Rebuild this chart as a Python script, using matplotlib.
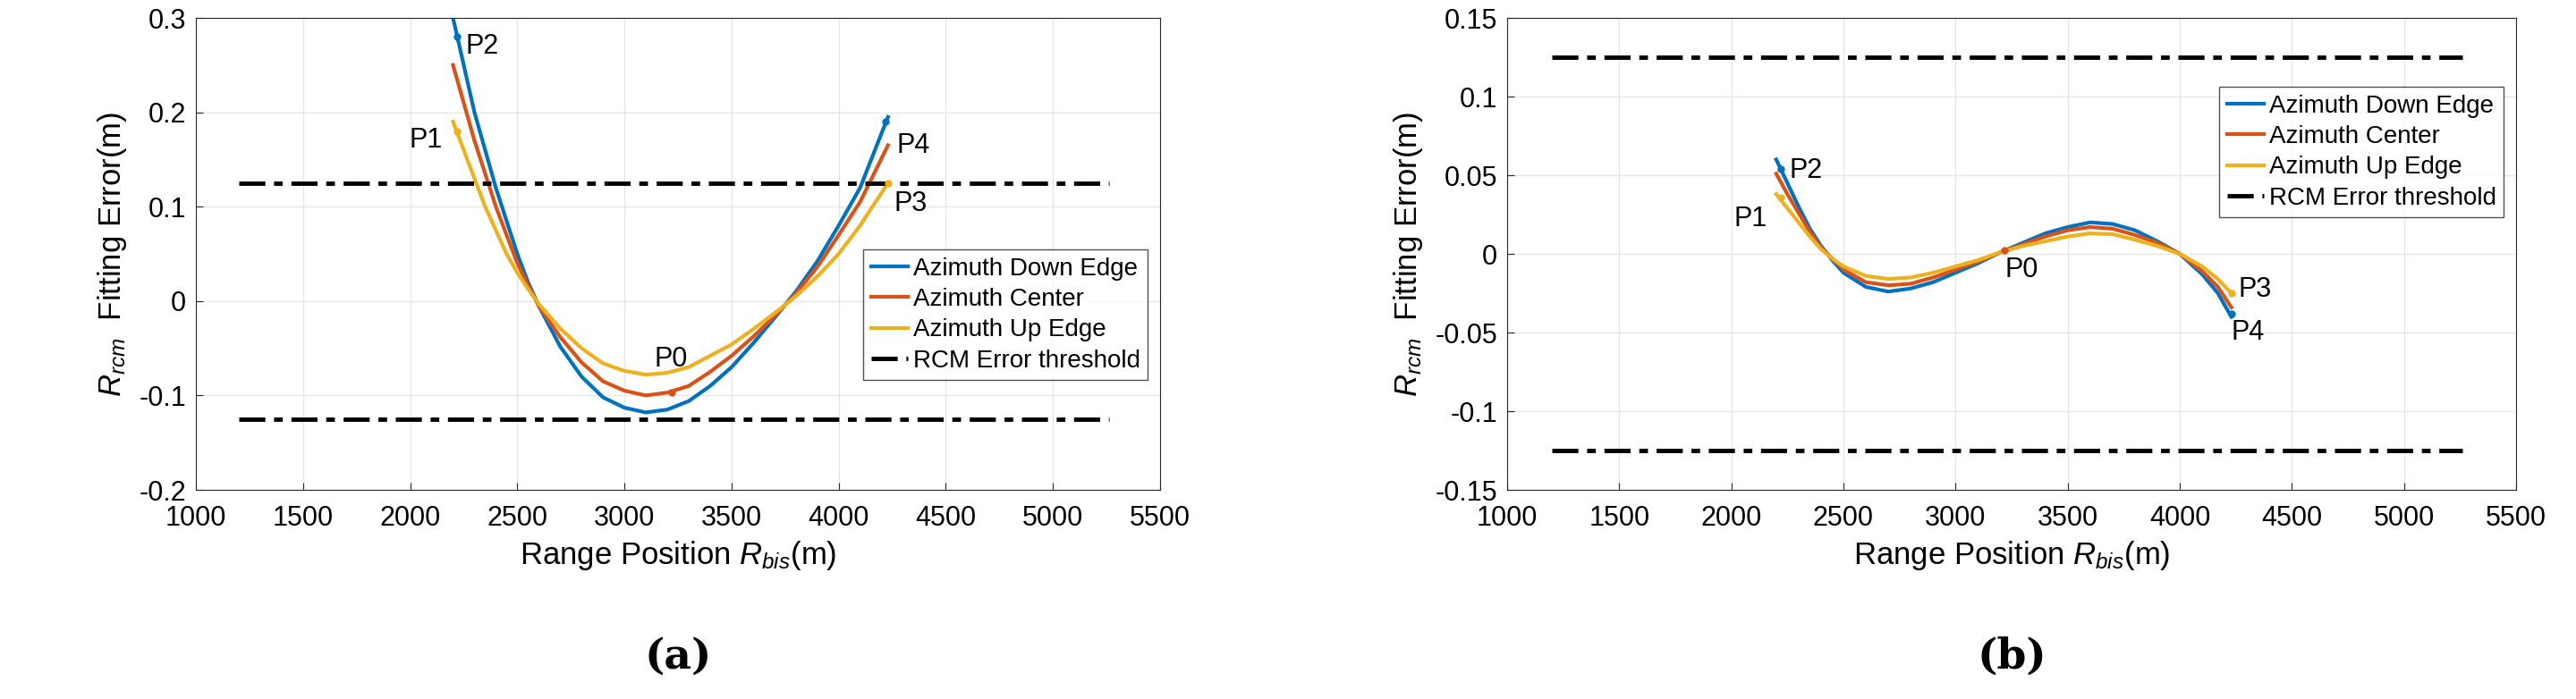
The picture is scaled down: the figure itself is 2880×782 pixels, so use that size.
import matplotlib
matplotlib.use("Agg")
import matplotlib.pyplot as plt

FONT = ['Liberation Sans', 'DejaVu Sans']
plt.rcParams['font.family'] = FONT
plt.rcParams['mathtext.fontset'] = 'custom'
plt.rcParams['mathtext.it'] = 'Liberation Sans:italic'
plt.rcParams['mathtext.rm'] = 'Liberation Sans'

x = [2200, 2250, 2300, 2350, 2400, 2450, 2500, 2550, 2600, 2700, 2800, 2900, 3000, 3100, 3200, 3300,
     3400, 3500, 3600, 3700, 3800, 3900, 4000, 4100, 4230]
a_down = [0.30, 0.25, 0.20, 0.16, 0.12, 0.085, 0.05, 0.02, -0.005, -0.048, -0.08, -0.102, -0.113, -0.118,
          -0.115, -0.106, -0.09, -0.07, -0.045, -0.018, 0.01, 0.042, 0.08, 0.12, 0.195]
a_cent = [0.25, 0.21, 0.17, 0.135, 0.10, 0.07, 0.04, 0.017, -0.005, -0.038, -0.065, -0.085, -0.095, -0.10,
          -0.097, -0.09, -0.075, -0.058, -0.038, -0.016, 0.008, 0.036, 0.07, 0.105, 0.165]
a_up = [0.19, 0.16, 0.13, 0.10, 0.075, 0.05, 0.03, 0.013, -0.003, -0.029, -0.05, -0.066, -0.074, -0.078,
        -0.076, -0.07, -0.058, -0.046, -0.03, -0.013, 0.005, 0.026, 0.05, 0.08, 0.125]

xb = [2200, 2250, 2300, 2350, 2400, 2450, 2500, 2600, 2700, 2800, 2900, 3000, 3100, 3200, 3300, 3400,
      3500, 3600, 3700, 3800, 3900, 4000, 4100, 4170, 4230]
b_down = [0.06, 0.045, 0.03, 0.016, 0.005, -0.004, -0.012, -0.021, -0.024, -0.022, -0.018, -0.012, -0.006,
          0.001, 0.007, 0.013, 0.017, 0.020, 0.019, 0.015, 0.008, 0.0, -0.013, -0.025, -0.040]
b_cent = [0.051, 0.038, 0.026, 0.014, 0.004, -0.003, -0.010, -0.018, -0.020, -0.019, -0.015, -0.010, -0.005,
          0.001, 0.006, 0.011, 0.015, 0.017, 0.016, 0.012, 0.007, 0.0, -0.011, -0.021, -0.034]
b_up = [0.038, 0.029, 0.020, 0.011, 0.003, -0.003, -0.008, -0.014, -0.016, -0.015, -0.012, -0.008, -0.004,
        0.001, 0.005, 0.008, 0.011, 0.013, 0.0125, 0.009, 0.005, 0.0, -0.008, -0.016, -0.025]

thr_x = [1200, 5260]
thr = 0.125

a_pts = {'P0': (3220, -0.097), 'P1': (2220, 0.18), 'P2': (2220, 0.28), 'P3': (4230, 0.125), 'P4': (4220, 0.19)}
b_pts = {'P0': (3220, 0.002), 'P1': (2220, 0.036), 'P2': (2220, 0.054), 'P3': (4230, -0.025), 'P4': (4230, -0.038)}

C_B, C_R, C_Y = '#0072BD', '#D95319', '#EDB120'
pt_col = {'P0': C_R, 'P1': C_Y, 'P2': C_B, 'P3': C_Y, 'P4': C_B}

fig = plt.figure(figsize=(28.8, 7.82), dpi=100)
axA = fig.add_axes([219/2880, 1-548/782, (1297-219)/2880, 528/782])
axB = fig.add_axes([1685/2880, 1-548/782, (2813-1685)/2880, 528/782])

def draw(ax, xs, d, c, u, pts, ylim, yticks, ylabels, lab_off, leg_loc):
    ax.plot(xs, d, color=C_B, lw=3, label='Azimuth Down Edge')
    ax.plot(xs, c, color=C_R, lw=3, label='Azimuth Center')
    ax.plot(xs, u, color=C_Y, lw=3, label='Azimuth Up Edge')
    for s in (1, -1):
        ax.plot(thr_x, [s*thr]*2, color='black', lw=3.5, ls=(0, (6, 2, 2, 2)),
                label='RCM Error threshold' if s == 1 else None)
    for k, (px, py) in pts.items():
        ax.plot(px, py, 'o', color=pt_col[k], ms=5)
        dx, dy, ha = lab_off[k]
        ax.text(px+dx, py+dy, k, fontsize=22, ha=ha, va='center')
    ax.set_xlim(1000, 5500)
    ax.set_ylim(*ylim)
    ax.set_xticks(range(1000, 5501, 500))
    ax.set_yticks(yticks)
    ax.set_yticklabels(ylabels)
    ax.tick_params(labelsize=22, color='#262626', direction='in', length=6)
    ax.tick_params(axis='x', pad=12)
    ax.tick_params(axis='y', pad=8)
    ax.grid(True, color='#e6e6e6', lw=1)
    for sp in ax.spines.values():
        sp.set_color('#262626')
    ax.set_xlabel('Range Position $R_{bis}$(m)', fontsize=25, labelpad=6)
    ax.set_ylabel('$R_{rcm}$  Fitting Error(m)', fontsize=25, labelpad=8)
    ax.legend(loc=leg_loc[0], bbox_to_anchor=leg_loc[1], fontsize=20, frameon=True, fancybox=False,
              edgecolor='#262626', handlelength=1.5, handletextpad=0.2, borderpad=0.3, labelspacing=0.3)

draw(axA, x, a_down, a_cent, a_up, a_pts, (-0.2, 0.3),
     [-0.2, -0.1, 0, 0.1, 0.2, 0.3], ['-0.2', '-0.1', '0', '0.1', '0.2', '0.3'],
     {'P0': (-80, 0.035, 'left'), 'P1': (-70, -0.01, 'right'), 'P2': (40, -0.01, 'left'),
      'P3': (30, -0.022, 'left'), 'P4': (50, -0.025, 'left')},
     ('upper right', (1.0, 0.535)))
draw(axB, xb, b_down, b_cent, b_up, b_pts, (-0.15, 0.15),
     [-0.15, -0.1, -0.05, 0, 0.05, 0.1, 0.15], ['-0.15', '-0.1', '-0.05', '0', '0.05', '0.1', '0.15'],
     {'P0': (0, -0.012, 'left'), 'P1': (-60, -0.014, 'right'), 'P2': (40, -0.001, 'left'),
      'P3': (30, 0.002, 'left'), 'P4': (0, -0.012, 'left')},
     ('upper right', (1.0, 0.88)))

fig.text((219+1297)/2/2880, 1-735/782, '(a)', fontsize=34, fontweight='bold', family='DejaVu Serif', ha='center', va='center')
fig.text((1685+2813)/2/2880, 1-735/782, '(b)', fontsize=34, fontweight='bold', family='DejaVu Serif', ha='center', va='center')

fig.savefig('out.png', dpi=100)
